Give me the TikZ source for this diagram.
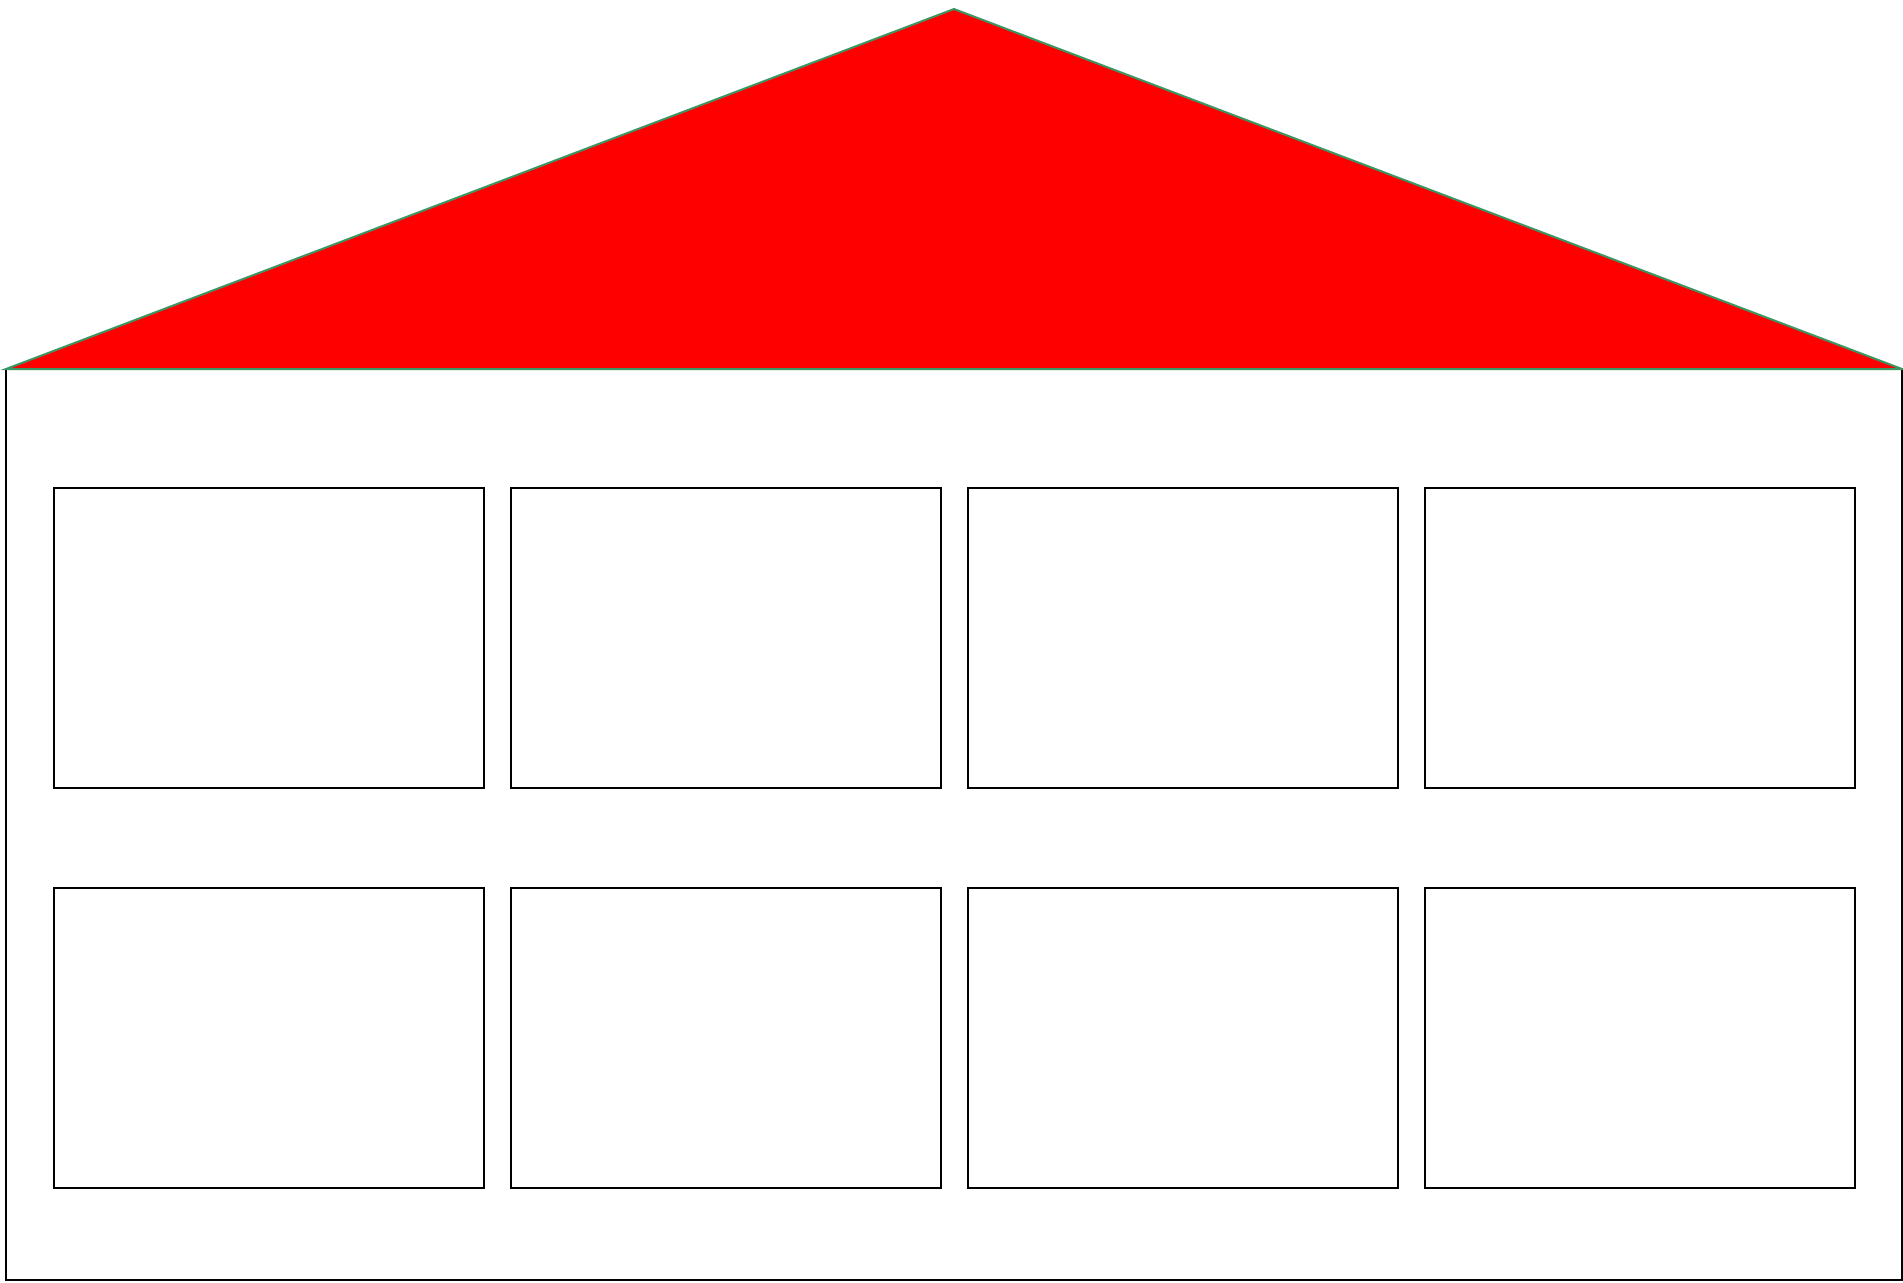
\documentclass[tikz,border=0pt]{standalone}
\definecolor{roofred}{RGB}{255,0,0}
\definecolor{roofline}{RGB}{60,150,100}
\begin{document}
\begin{tikzpicture}[x=0.5pt,y=-0.5pt]
  \useasboundingbox (0,0) rectangle (1903,1282);
  % house body
  \draw[line width=1pt] (6,369) rectangle (1902,1280);
  % roof
  \draw[line width=1pt,draw=roofline,fill=roofred] (6,369) -- (954,9) -- (1902,369) -- cycle;
  % windows, two rows of four
  \foreach \row/\top in {1/488,2/888}{
    \foreach \col in {0,1,2,3}{
      \draw[line width=1pt] ({54+\col*457},\top) rectangle ({54+\col*457+430},{\top+300});
    }
  }
\end{tikzpicture}
\end{document}
